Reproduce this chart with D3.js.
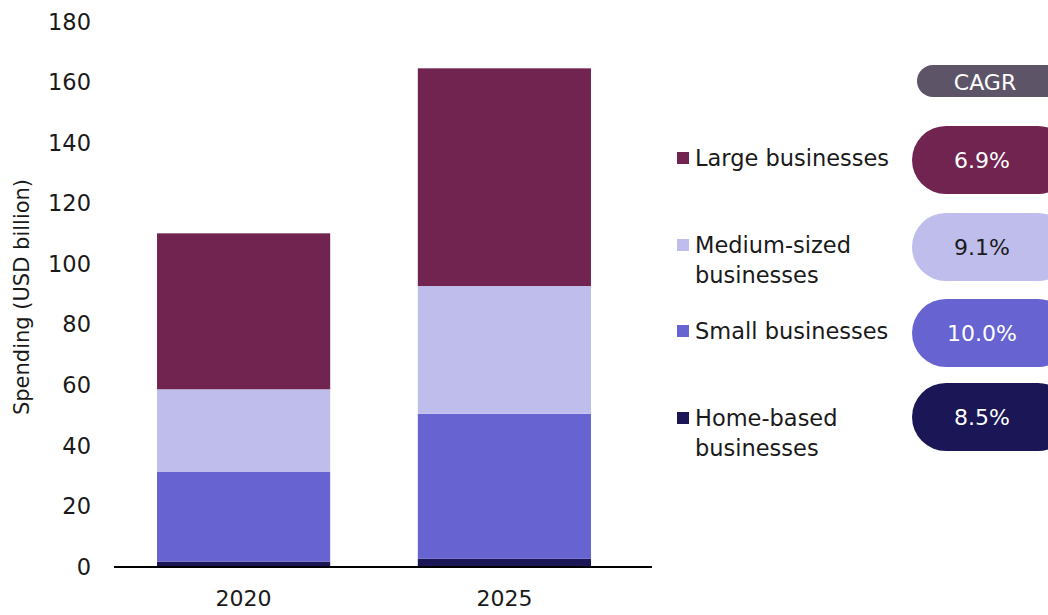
<!DOCTYPE html>
<html>
<head>
<meta charset="utf-8">
<script src="https://cdn.jsdelivr.net/npm/d3@7"></script>
<style>
  body { margin: 0; background: #fff; }
  text { font-family: "DejaVu Sans", sans-serif; }
</style>
</head>
<body>
<svg id="chart" width="1048" height="615"></svg>
<script>
// data
var years = ["2020", "2025"];
var segments = ["Home-based businesses", "Small businesses", "Medium-sized businesses", "Large businesses"];
var home   = [1.8, 2.7];
var small  = [29.7, 47.9];
var medium = [27.2, 42.2];
var large  = [51.5, 71.9];
var cagr = {"Large businesses": "6.9%", "Medium-sized businesses": "9.1%", "Small businesses": "10.0%", "Home-based businesses": "8.5%"};
var yTicks = [0, 20, 40, 60, 80, 100, 120, 140, 160, 180];

var colors = {
  "Large businesses": "#722450",
  "Medium-sized businesses": "#bfbdec",
  "Small businesses": "#6763d1",
  "Home-based businesses": "#1b1655"
};

var rows = years.map(function(y, i) {
  return {year: y, "Home-based businesses": home[i], "Small businesses": small[i],
          "Medium-sized businesses": medium[i], "Large businesses": large[i]};
});

var svg = d3.select("#chart");

var x = d3.scaleBand().domain(years).range([114, 634]).paddingInner(0.336).paddingOuter(0.165);
var y = d3.scaleLinear().domain([0, 180]).range([567, 22]);

var stack = d3.stack().keys(segments)(rows);

svg.append("g").selectAll("g")
  .data(stack)
  .enter().append("g")
    .attr("fill", function(d) { return colors[d.key]; })
  .selectAll("rect")
  .data(function(d) { return d; })
  .enter().append("rect")
    .attr("x", function(d) { return x(d.data.year); })
    .attr("y", function(d) { return y(d[1]); })
    .attr("height", function(d) { return y(d[0]) - y(d[1]); })
    .attr("width", x.bandwidth());

// y axis, labels only
var yAxis = svg.append("g")
  .attr("transform", "translate(91,0)")
  .call(d3.axisLeft(y).tickValues(yTicks).tickSize(0).tickPadding(0));
yAxis.select(".domain").remove();
yAxis.selectAll("text").style("font-size", "22.5px").attr("fill", "#1a1a1a");

// baseline
svg.append("line")
  .attr("x1", 114).attr("x2", 652)
  .attr("y1", y(0)).attr("y2", y(0))
  .attr("stroke", "#000").attr("stroke-width", 2);

// x labels
var xAxis = svg.append("g")
  .attr("transform", "translate(0," + y(0) + ")")
  .call(d3.axisBottom(x).tickSize(0).tickPadding(23));
xAxis.select(".domain").remove();
xAxis.selectAll("text").style("font-size", "22px").attr("fill", "#1a1a1a");

svg.append("text")
  .attr("transform", "translate(29,297) rotate(-90)")
  .attr("text-anchor", "middle")
  .style("font-size", "21px")
  .attr("fill", "#1a1a1a")
  .text("Spending (USD billion)");

// legend + CAGR pills
var legend = [
  {key: "Large businesses", lines: ["Large businesses"], ty: 158, cy: 160},
  {key: "Medium-sized businesses", lines: ["Medium-sized", "businesses"], ty: 245, cy: 247},
  {key: "Small businesses", lines: ["Small businesses"], ty: 331, cy: 333},
  {key: "Home-based businesses", lines: ["Home-based", "businesses"], ty: 418, cy: 417}
];

svg.append("rect")
  .attr("x", 917).attr("y", 65).attr("width", 150).attr("height", 32)
  .attr("rx", 16).attr("fill", "#5e5468");
svg.append("text")
  .attr("x", 985).attr("y", 82).attr("dy", "0.35em")
  .attr("text-anchor", "middle").style("font-size", "22px")
  .attr("fill", "#fff").text("CAGR");

var lg = svg.append("g").selectAll("g").data(legend).enter().append("g");

lg.append("rect")
  .attr("x", 677)
  .attr("y", function(d) { return d.ty - 6; })
  .attr("width", 12).attr("height", 12)
  .attr("fill", function(d) { return colors[d.key]; });

lg.each(function(d) {
  var g = d3.select(this);
  d.lines.forEach(function(l, i) {
    g.append("text")
      .attr("x", 695).attr("y", d.ty + i * 30).attr("dy", "0.35em")
      .style("font-size", "22.5px").attr("fill", "#1a1a1a")
      .text(l);
  });
});

lg.append("rect")
  .attr("x", 912).attr("y", function(d) { return d.cy - 34; })
  .attr("width", 160).attr("height", 68).attr("rx", 34)
  .attr("fill", function(d) { return colors[d.key]; });

lg.append("text")
  .attr("x", 982).attr("y", function(d) { return d.cy; }).attr("dy", "0.35em")
  .attr("text-anchor", "middle").style("font-size", "22px")
  .attr("fill", function(d) { return d.key === "Medium-sized businesses" ? "#1a1a1a" : "#fff"; })
  .text(function(d) { return cagr[d.key]; });
</script>
</body>
</html>
